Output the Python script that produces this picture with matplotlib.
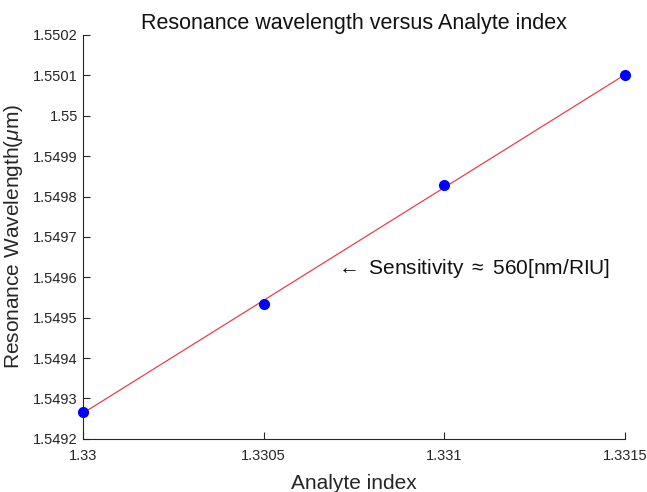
import numpy as np
import matplotlib
matplotlib.use('Agg')
from matplotlib import pyplot as plt
from matplotlib.ticker import FuncFormatter

plt.rcParams['font.family'] = ['Liberation Sans', 'DejaVu Sans']
plt.rcParams['mathtext.fontset'] = 'custom'
plt.rcParams['mathtext.it'] = 'Liberation Sans:italic'
plt.rcParams['mathtext.rm'] = 'Liberation Sans'

# data
analyte_index = [1.33, 1.3305, 1.331, 1.3315]
res_wavelength = [1.549267, 1.549534, 1.549829, 1.5501]
xticks = [1.33, 1.3305, 1.331, 1.3315]
yticks = [1.5492, 1.5493, 1.5494, 1.5495, 1.5496, 1.5497, 1.5498, 1.5499, 1.55, 1.5501, 1.5502]

fig = plt.figure(figsize=(6.47, 4.92), dpi=100)
ax = fig.add_axes([0.128, 0.108, 0.838, 0.821])

# linear fit line
p = np.polyfit(analyte_index, res_wavelength, 1)
xf = np.array([analyte_index[0], analyte_index[-1]])
ax.plot(xf, np.polyval(p, xf), color='#e8404a', lw=0.9, zorder=2)
ax.plot(analyte_index, res_wavelength, 'o', color='#0000ff', ms=7, zorder=3, clip_on=False)

ax.set_xlim(1.33, 1.3315)
ax.set_ylim(1.5492, 1.5502)
ax.set_xticks(xticks)
ax.set_yticks(yticks)
fmt = FuncFormatter(lambda v, pos: ('%.4f' % v).rstrip('0').rstrip('.'))
ax.xaxis.set_major_formatter(fmt)
ax.yaxis.set_major_formatter(fmt)

for s in ['top', 'right']:
    ax.spines[s].set_visible(False)
for s in ['left', 'bottom']:
    ax.spines[s].set_color('#262626')
    ax.spines[s].set_linewidth(0.8)
ax.tick_params(direction='in', length=5, width=0.8, colors='#262626', labelsize=10.5, labelcolor='#262626')
ax.tick_params(axis='x', pad=7)

ax.set_title('Resonance wavelength versus Analyte index', fontsize=15.5, color='#111111', pad=4)
ax.set_xlabel('Analyte index', fontsize=15, color='#262626', labelpad=8)
ax.set_ylabel('Resonance Wavelength($\\mu$m)', fontsize=15, color='#262626', labelpad=6)

ax.text(1.330697, 1.549621, '$\\leftarrow$ Sensitivity $\\approx$ 560[nm/RIU]', fontsize=15,
        ha='left', va='center', color='#111111')

fig.savefig('out.png', dpi=100, facecolor='white')
